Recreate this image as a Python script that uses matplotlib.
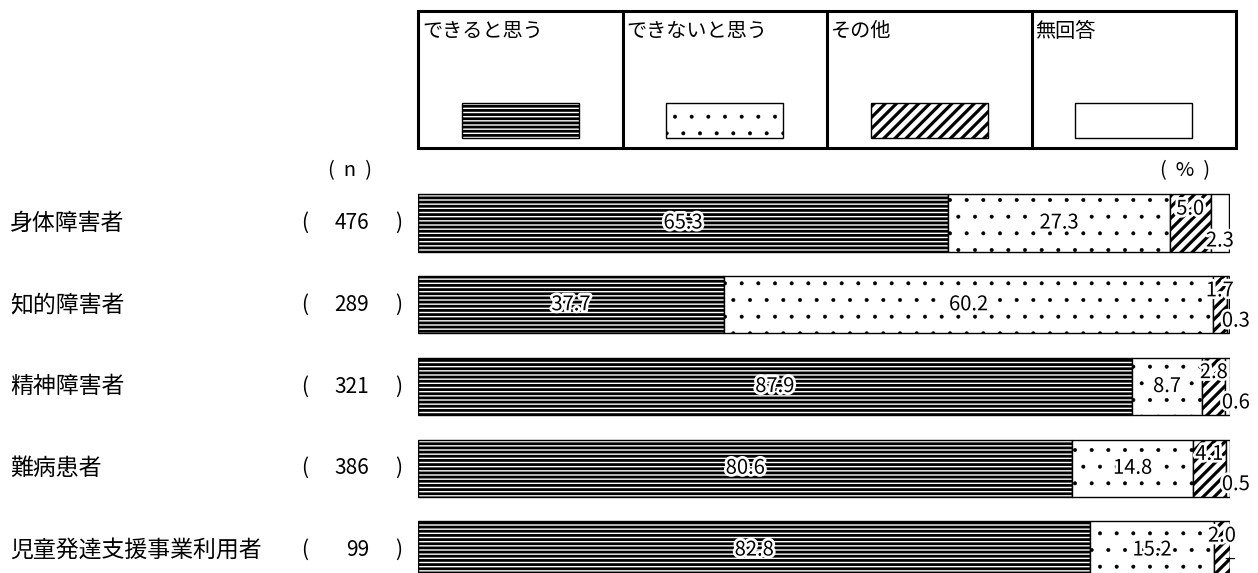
import matplotlib
matplotlib.use("Agg")
import matplotlib.pyplot as plt
import matplotlib.patheffects as pe
from matplotlib.patches import Rectangle
from matplotlib import transforms

plt.rcParams['font.family'] = ['Noto Sans CJK JP', 'DejaVu Sans']
plt.rcParams['hatch.linewidth'] = 1.5
plt.rcParams['hatch.color'] = 'black'

categories = ["身体障害者", "知的障害者", "精神障害者", "難病患者", "児童発達支援事業利用者"]
n_values = [476, 289, 321, 386, 99]
series_names = ["できると思う", "できないと思う", "その他", "無回答"]
can = [65.3, 37.7, 87.9, 80.6, 82.8]
cannot = [27.3, 60.2, 8.7, 14.8, 15.2]
other = [5.0, 1.7, 2.8, 4.1, 2.0]
no_answer = [2.3, 0.3, 0.6, 0.5, None]  # None -> "−"

hatches = ['----', '.', '///', '']
hatch_lw = [2.0, 0.4, 2.3, 1.0]


def set_hlw(patch, lw):
    # per-artist hatch linewidth (newer matplotlib), else rcParams value is used
    if hasattr(patch, 'set_hatch_linewidth'):
        patch.set_hatch_linewidth(lw)


W, H = 1258, 573
fig = plt.figure(figsize=(W / 100, H / 100), dpi=100)

# main bar area (pixel layout of the reference)
ax = fig.add_axes([418 / W, 0, (1230 - 418) / W, (573 - 180) / H])
ax.set_xlim(0, 100)
ax.set_ylim(4.281, -0.526)
ax.axis('off')

bar_h = 0.70
halo = [pe.withStroke(linewidth=4, foreground='white')]
series = [can, cannot, other, [v if v is not None else 0 for v in no_answer]]

left = [0.0] * len(categories)
for s, vals in enumerate(series):
    bars = ax.barh(range(len(categories)), vals, left=left, height=bar_h,
                   color='white', edgecolor='black', linewidth=1, hatch=hatches[s])
    for b in bars:
        set_hlw(b, hatch_lw[s])
    for i, v in enumerate(vals):
        mid = left[i] + v / 2
        if s < 2:
            ax.text(mid, i, f"{v:.1f}", ha='center', va='center',
                    fontsize=14.5, path_effects=halo)
        elif s == 2:
            ax.text(mid, i - 0.17, f"{v:.1f}", ha='center', va='center',
                    fontsize=14.5, path_effects=halo)
        else:
            raw = no_answer[i]
            if raw is None:
                ax.text(99.3, i + 0.13, "−", ha='left', va='center', fontsize=14,
                        clip_on=False)
            elif raw >= 1:
                ax.text(mid, i + 0.22, f"{raw:.1f}", ha='center', va='center',
                        fontsize=14.5, path_effects=halo, clip_on=False)
            else:
                ax.text(99.0, i + 0.2, f"{raw:.1f}", ha='left', va='center',
                        fontsize=14.5, path_effects=halo, clip_on=False)
    left = [l + v for l, v in zip(left, vals)]

# row labels on the left, x in figure pixels
trans = transforms.blended_transform_factory(fig.transFigure, ax.transData)
for i, (cat, n) in enumerate(zip(categories, n_values)):
    ax.text(10 / W, i, cat, transform=trans, ha='left', va='center', fontsize=16.5, clip_on=False)
    ax.text(305 / W, i, "(", transform=trans, ha='center', va='center', fontsize=15, clip_on=False)
    ax.text(369 / W, i, str(n), transform=trans, ha='right', va='center', fontsize=15, clip_on=False)
    ax.text(399 / W, i, ")", transform=trans, ha='center', va='center', fontsize=15, clip_on=False)

fig.text(350 / W, 1 - 171 / H, "(  n  )", ha='center', va='center', fontsize=14.5)
fig.text(1185 / W, 1 - 171 / H, "(  %  )", ha='center', va='center', fontsize=14.5)

# legend box at the top
lax = fig.add_axes([418 / W, 1 - 148 / H, (1236 - 418) / W, (148 - 11) / H])
lax.set_xlim(0, 4)
lax.set_ylim(0, 1)
lax.axis('off')
lax.add_patch(Rectangle((0, 0), 4, 1, fill=False, edgecolor='black', linewidth=2.2, clip_on=False))
for k in range(1, 4):
    lax.plot([k, k], [0, 1], color='black', linewidth=2.2, clip_on=False)
for k, name in enumerate(series_names):
    lax.text(k + 0.02, 0.93, name, ha='left', va='top', fontsize=14.5)
    sw = 0.572
    r = Rectangle((k + 0.5 - sw / 2, 0.075), sw, 0.255, facecolor='white',
                  edgecolor='black', linewidth=1, hatch=hatches[k])
    set_hlw(r, hatch_lw[k])
    lax.add_patch(r)

fig.savefig("out.png", dpi=100)
